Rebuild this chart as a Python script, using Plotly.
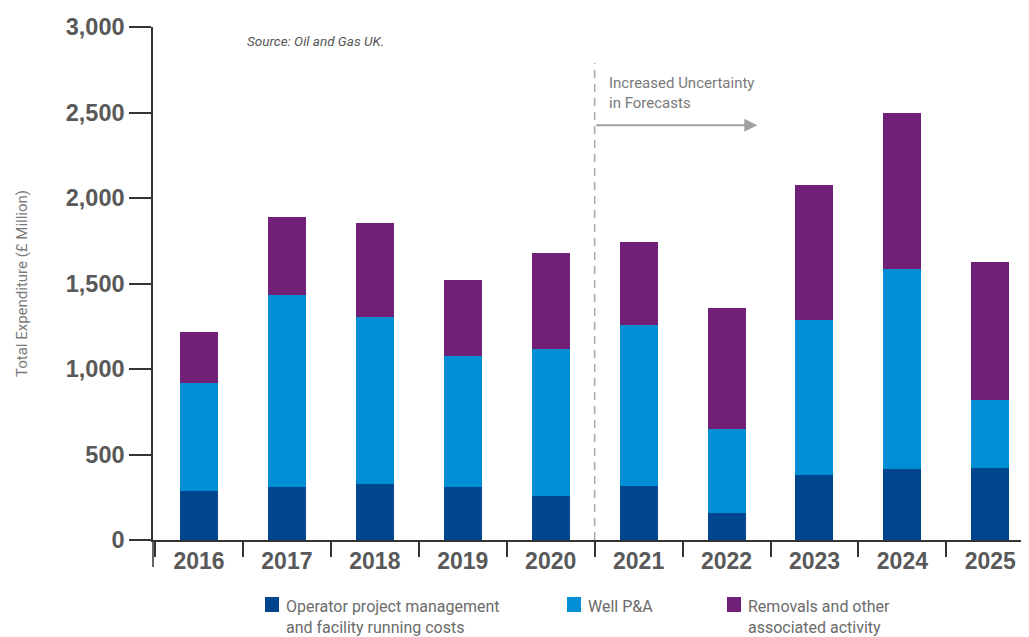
import plotly.graph_objects as go

years = ["2016", "2017", "2018", "2019", "2020", "2021", "2022", "2023", "2024", "2025"]
operator_costs = [287, 309, 326, 309, 258, 315, 157, 382, 416, 421]
well_pa = [631, 1121, 976, 767, 860, 944, 492, 906, 1170, 397]
removals = [297, 461, 554, 447, 560, 482, 710, 788, 914, 808]

y_ticks = [0, 500, 1000, 1500, 2000, 2500, 3000]

names = ["Operator project management<br>and facility running costs",
         "Well P&A",
         "Removals and other<br>associated activity"]
colors = ["#00468F", "#008FD4", "#702077"]

# the page body adds an 8px margin, so the figure is sized to end exactly at the window edge
OFF = 8
W, H = 1029 - OFF, 637 - OFF
PLOT_LEFT, PLOT_TOP, PLOT_BOTTOM = 153, 27, 540  # in window pixels
ML, MT = PLOT_LEFT - OFF, PLOT_TOP - OFF
MB = H - (PLOT_BOTTOM - OFF)
PW, PH = W - ML, H - MT - MB


def px_x(px):
    return (px - PLOT_LEFT) / PW


def px_y(py):
    return (PLOT_BOTTOM - py) / PH


fig = go.Figure()
series = [operator_costs, well_pa, removals]
for vals, nm, col in zip(series, names, colors):
    fig.add_trace(go.Bar(x=years, y=vals, name=nm.replace("<br>", " "),
                         marker=dict(color=col, line=dict(width=0)), showlegend=False))

fig.update_layout(
    width=W, height=H,
    barmode="stack", bargap=0.568,
    plot_bgcolor="white", paper_bgcolor="white",
    margin=dict(l=ML, r=0, t=MT, b=MB, autoexpand=False),
    showlegend=False,
    xaxis=dict(
        range=[-0.523, 9.44], automargin=False,
        showline=True, linecolor="#333333", linewidth=1.5,
        ticks="outside", tickson="boundaries", ticklen=15, tickcolor="#333333", tickwidth=1.5,
        tickfont=dict(family="Liberation Sans, Arial, sans-serif", size=23, color="#595959",
                      weight="bold"),
        ticklabelstandoff=0,
        showgrid=False, zeroline=False, fixedrange=True,
    ),
    yaxis=dict(
        range=[0, 3000], tickvals=y_ticks, tickformat=",", automargin=False,
        showline=True, linecolor="#333333", linewidth=1.5,
        ticks="outside", ticklen=22, tickcolor="#333333", tickwidth=1.5,
        tickfont=dict(family="Liberation Sans, Arial, sans-serif", size=23.5, color="#595959",
                      weight="bold"),
        showgrid=False, zeroline=False,
        title=dict(text="Total Expenditure (£ Million)", standoff=34,
                   font=dict(family="Roboto, sans-serif", size=15, color="#7a7a7a")),
    ),
)

# extension of the y-axis line below the x-axis
fig.add_shape(type="line", xref="paper", yref="paper", x0=0, x1=0, y0=0, y1=px_y(567),
              line=dict(color="#333333", width=1.5))

# dashed separator for forecast years
fig.add_shape(type="line", xref="x", yref="y", x0=4.5, x1=4.5, y0=0, y1=2790,
              line=dict(color="#a8a8a8", width=1.5, dash="8px,6px"))

# arrow
fig.add_annotation(x=6.35, y=2425, ax=4.5, ay=2425, xref="x", yref="y", axref="x", ayref="y",
                   text="", showarrow=True, arrowhead=2, arrowsize=1.3, arrowwidth=2,
                   arrowcolor="#a0a0a0")

fig.add_annotation(x=4.64, y=2735, xref="x", yref="y", xanchor="left", yanchor="top",
                   text="Increased Uncertainty<br>in Forecasts", showarrow=False, align="left",
                   font=dict(family="Roboto, sans-serif", size=15, color="#7a7a7a"))

fig.add_annotation(x=0.52, y=2918, xref="x", yref="y", xanchor="left", yanchor="middle",
                   text="<i>Source: Oil and Gas UK.</i>", showarrow=False,
                   font=dict(family="Roboto, sans-serif", size=13.5, color="#555555"))

# legend (drawn manually so that each entry sits where the reference puts it)
legend_x = [265, 567, 727]
LEG_TOP = 597
legend_font = dict(family="Roboto, sans-serif", size=16, color="#6b6b6b")
for lx, nm, col in zip(legend_x, names, colors):
    fig.add_shape(type="rect", xref="paper", yref="paper",
                  x0=px_x(lx), x1=px_x(lx + 14), y0=px_y(LEG_TOP + 15), y1=px_y(LEG_TOP),
                  fillcolor=col, line=dict(width=0))
    two_lines = "<br>" in nm
    fig.add_annotation(x=px_x(lx + 19), y=px_y(LEG_TOP + (19.5 if two_lines else 9)),
                       xref="paper", yref="paper", xanchor="left", yanchor="middle",
                       align="left", text=nm, showarrow=False, font=legend_font)

fig.write_html("out.html")
